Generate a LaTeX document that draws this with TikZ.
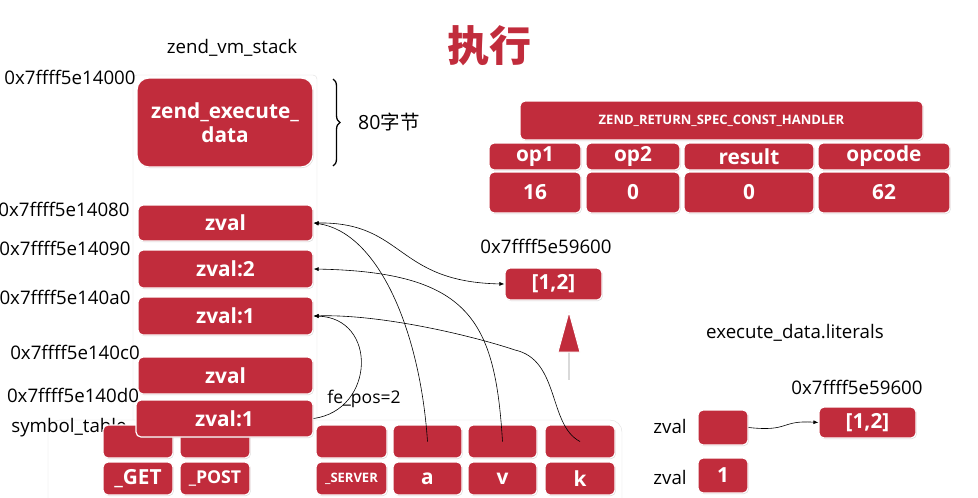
\documentclass[tikz,border=0pt]{standalone}
\usepackage{fontspec}
\setmainfont{Open Sans}
\newfontfamily\cjk{Noto Sans CJK SC}
\usetikzlibrary{arrows.meta,decorations.pathreplacing,shadows}
\definecolor{zred}{RGB}{193,44,60}

\begin{document}
\begin{tikzpicture}[x=1pt, y=-1pt,
  cell/.style={fill=zred, draw=white, line width=1.2pt, rounded corners=5pt, text=white,
    font=\bfseries\fontsize{20.8}{24}\selectfont, inner sep=0pt,
    drop shadow={shadow xshift=0.8pt, shadow yshift=-1pt, opacity=0.3}},
  lbl/.style={font=\fontsize{18.7}{22}\selectfont, inner sep=0pt},
  link/.style={-{Latex[length=5pt,width=4pt]}, line width=0.6pt},
  dlink/.style={{Latex[length=5pt,width=4pt]}-{Latex[length=5pt,width=4pt]}, line width=0.6pt}]
  \useasboundingbox (0,0) rectangle (978,498);
  \clip (0,0) rectangle (978,498);

  % title
  \node[font=\cjk\bfseries\fontsize{42}{48}\selectfont, text=zred] (title) at (489,46) {执行};

  % zend_vm_stack
  \node[lbl] (stacktitle) at (232,48) {zend\_vm\_stack};
  \draw[gray!25, fill=white, rounded corners=4pt] (133,75) rectangle (317,440);
  \node[cell, rounded corners=12pt, minimum width=176pt, minimum height=89pt, align=center] (zexec) at (225,122.5) {zend\_execute\_\\data};
  \draw[decorate, decoration={brace, amplitude=7pt}, line width=1.3pt] (333,79) -- (333,166);
  \node[lbl, anchor=west, font=\fontsize{19.5}{22}\selectfont] (size) at (358,122) {80{\cjk 字节}};

  % symbol_table
  \draw[gray!25, fill=white, rounded corners=12pt] (48,420) rectangle (622,530);
  \node[lbl] (symtab) at (69,428) {symbol\_table};
  \node[cell, minimum width=70pt, minimum height=33pt] (b1) at (138,441.5) {};
  \node[cell, minimum width=70pt, minimum height=33pt] (b2) at (215,441.5) {};
  \node[cell, minimum width=71pt, minimum height=33pt] (bs) at (351.5,441.5) {};
  \node[cell, minimum width=69pt, minimum height=33pt] (ba) at (427.5,441.5) {};
  \node[cell, minimum width=69pt, minimum height=33pt] (bv) at (502.5,441.5) {};
  \node[cell, minimum width=70pt, minimum height=33pt] (bk) at (580,441.5) {};
  \node[cell, minimum width=70pt, minimum height=33pt] (kget) at (138,478.5) {\_GET};
  \node[cell, minimum width=70pt, minimum height=33pt, font=\bfseries\fontsize{17.7}{20}\selectfont] (kpost) at (215,478.5) {\_POST};
  \node[cell, minimum width=71pt, minimum height=33pt, font=\bfseries\fontsize{13}{15}\selectfont] (kserver) at (351.5,478.5) {\_SERVER};
  \node[cell, minimum width=69pt, minimum height=33pt] (ka) at (427.5,478.5) {a};
  \node[cell, minimum width=69pt, minimum height=33pt] (kv) at (502.5,478.5) {v};
  \node[cell, minimum width=70pt, minimum height=33pt] (kk) at (580,478.5) {k};

  % stack slots
  \node[lbl] (a0) at (70,77) {0x7ffff5e14000};
  \node[lbl] (a1) at (64,209) {0x7ffff5e14080};
  \node[lbl] (a2) at (65,248) {0x7ffff5e14090};
  \node[lbl] (a3) at (65,297) {0x7ffff5e140a0};
  \node[lbl] (a4) at (75,352) {0x7ffff5e140c0};
  \node[lbl] (a5) at (73,395) {0x7ffff5e140d0};
  \node[cell, minimum width=175pt, minimum height=36pt] (zv1) at (225.5,223) {zval};
  \node[cell, minimum width=175pt, minimum height=38pt] (zv2) at (225.5,269) {zval:2};
  \node[cell, minimum width=175pt, minimum height=38pt] (zv3) at (225.5,316) {zval:1};
  \node[cell, minimum width=175pt, minimum height=37pt] (zv4) at (225.5,375.5) {zval};
  \node[cell, minimum width=177pt, minimum height=37pt] (zv5) at (224.5,418.5) {zval:1};

  % opline
  \node[cell, minimum width=403pt, minimum height=39pt, font=\bfseries\fontsize{13}{15}\selectfont] (hdr) at (721.5,120.5) {ZEND\_RETURN\_SPEC\_CONST\_HANDLER};
  \node[cell, minimum width=92pt, minimum height=27pt] (op1) at (535,156.5) {op1};
  \node[cell, minimum width=94pt, minimum height=27pt] (op2) at (633,156.5) {op2};
  \node[cell, minimum width=130pt, minimum height=27pt] (res) at (749,156.5) {result};
  \node[cell, minimum width=132pt, minimum height=27pt] (opc) at (884,156.5) {opcode};
  \node[cell, minimum width=92pt, minimum height=41pt] (vop1) at (535,192.5) {16};
  \node[cell, minimum width=94pt, minimum height=41pt] (vop2) at (633,192.5) {0};
  \node[cell, minimum width=130pt, minimum height=41pt] (vres) at (749,192.5) {0};
  \node[cell, minimum width=132pt, minimum height=41pt] (vopc) at (884,192.5) {62};

  % array
  \node[lbl] (arraddr) at (546,246) {0x7ffff5e59600};
  \node[cell, minimum width=97pt, minimum height=32pt] (arr) at (553.5,284) {[1,2]};
  \draw[gray!30, line width=1.5pt] (569,350) -- (569,380);
  \draw[fill=zred, draw=white, line width=1pt] (569,312) -- (580,352) -- (558,352) -- cycle;

  % literals
  \node[lbl] (littitle) at (795,333) {execute\_data.literals};
  \node[lbl] (litaddr) at (857,387) {0x7ffff5e59600};
  \node[cell, minimum width=97pt, minimum height=31pt] (lit) at (867.5,422.5) {[1,2]};
  \node[lbl] (lzl1) at (670,426) {zval};
  \node[lbl] (lzl2) at (670,477) {zval};
  \node[cell, minimum width=50pt, minimum height=35pt] (lz1) at (723,427.5) {};
  \node[cell, minimum width=50pt, minimum height=35pt] (lz2) at (723,475.5) {1};

  % pointers
  \draw[link] (ba.center) .. controls (420,330) and (378,232) .. (zv1.east);
  \draw[dlink] (zv1.east) .. controls (405,222) and (395,282) .. (arr.west);
  \draw[link] (bv.center) .. controls (495,320) and (470,272) .. (zv2.east);
  \draw[link] (bk.center) .. controls (548,425) and (560,360) .. (515,350) .. controls (470,335) and (380,314) .. (zv3.east);
  \draw[link] (zv5.east) .. controls (375,410) and (378,318) .. (zv3.east);
  \node[lbl, font=\fontsize{17.5}{20}\selectfont] (fepos) at (364,399) {fe\_pos=2};
  \draw[link] (lz1.east) .. controls (790,432) and (780,420) .. (lit.west);
\end{tikzpicture}
\end{document}
